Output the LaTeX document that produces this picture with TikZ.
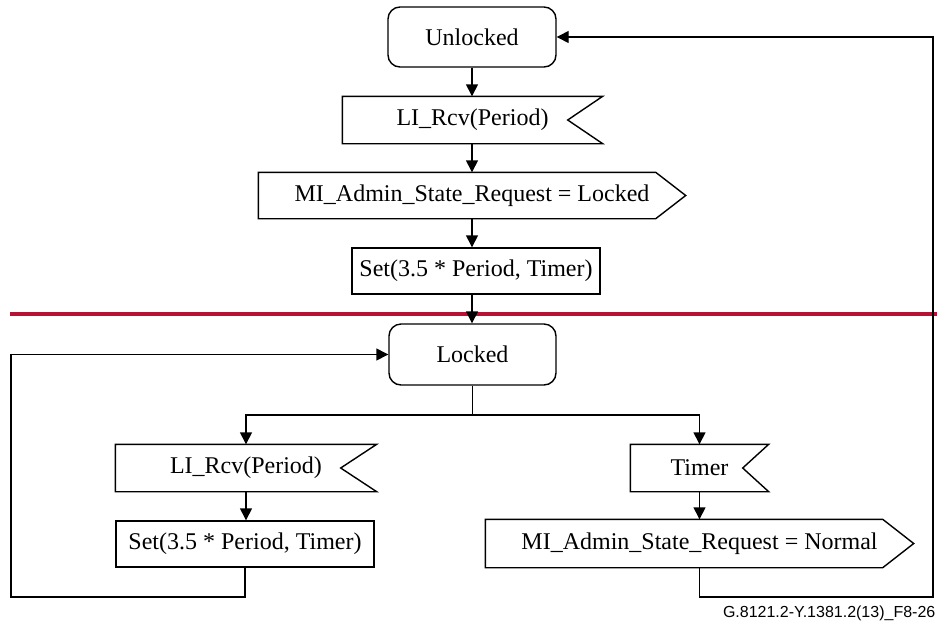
\documentclass[tikz,border=0pt]{standalone}
\usepackage{fontspec}
\setmainfont{Liberation Serif}
\newfontfamily\capfont{Liberation Sans}
\usetikzlibrary{arrows.meta,calc}
\definecolor{sepred}{RGB}{183,18,52}
\begin{document}
\begin{tikzpicture}[x=1pt,y=-1pt,line width=1.4pt,
  txt/.style={inner sep=0pt,anchor=center,font=\fontsize{24}{28}\selectfont},
  state/.style={txt,draw,rounded corners=12pt},
  act/.style={txt,draw},
  sig/.style={txt},
  arr/.style={-{Triangle[length=12pt,width=12pt]}},
  sepline/.style={draw=sepred,line width=3.5pt}]
\useasboundingbox (0,0) rectangle (937,625);
% separator line
\coordinate (redL) at (10,314);
\coordinate (redR) at (937,314);
\draw[sepline] (redL) -- (redR);
% nodes
\node[state,minimum width=168pt,minimum height=60pt] (unl) at (472,37) {Unlocked};
\node[sig,minimum width=259pt,minimum height=46pt] (li1) at (472.5,120) {LI\_Rcv(Period)};
\node[sig,minimum width=426pt,minimum height=45pt] (mi1) at (472,195.5) {MI\_Admin\_State\_Request = Locked};
\node[act,minimum width=248pt,minimum height=46pt] (set1) at (476,271) {Set(3.5 * Period, Timer)};
\node[state,minimum width=167pt,minimum height=61pt] (lck) at (472.5,354.5) {Locked};
\node[sig,minimum width=260pt,minimum height=46pt] (li2) at (246,468) {LI\_Rcv(Period)};
\node[act,minimum width=258pt,minimum height=46pt] (set2) at (245,544) {Set(3.5 * Period, Timer)};
\node[sig,minimum width=137pt,minimum height=46pt] (tim) at (699.5,468) {Timer};
\node[sig,minimum width=427pt,minimum height=47pt] (mi2) at (699.5,543.5) {MI\_Admin\_State\_Request = Normal};
% signal outlines
\draw (li1.north west) -- (li1.north east) -- ([xshift=-35pt]li1.east) -- (li1.south east) -- (li1.south west) -- cycle;
\draw (li2.north west) -- (li2.north east) -- ([xshift=-36pt]li2.east) -- (li2.south east) -- (li2.south west) -- cycle;
\draw (tim.north west) -- (tim.north east) -- ([xshift=-26pt]tim.east) -- (tim.south east) -- (tim.south west) -- cycle;
\draw (mi1.north west) -- ([xshift=-30pt]mi1.north east) -- (mi1.east) -- ([xshift=-30pt]mi1.south east) -- (mi1.south west) -- cycle;
\draw (mi2.north west) -- ([xshift=-31pt]mi2.north east) -- (mi2.east) -- ([xshift=-31pt]mi2.south east) -- (mi2.south west) -- cycle;
% connectors
\coordinate (br) at (472.5,415);
\coordinate (ll) at (11,597);
\coordinate (rl) at (933,597);
\draw[arr] (unl.south) -- (unl.south |- li1.north);
\draw[arr] (unl.south |- li1.south) -- (unl.south |- mi1.north);
\draw[arr] (unl.south |- mi1.south) -- (unl.south |- set1.north);
\draw[arr] (unl.south |- set1.south) -- (unl.south |- lck.north);
\draw (lck.south) -- (br);
\draw[arr] (br) -| (li2.north);
\draw[arr] (br) -| (tim.north);
\draw[arr] (li2.south) -- (li2.south |- set2.north);
\draw[arr] (tim.south) -- (tim.south |- mi2.north);
\draw[arr] (set2.south) |- (ll) |- (lck.west);
\draw[arr] (mi2.south) |- (rl) |- (unl.east);
% caption
\node[anchor=base east,inner sep=0pt,font=\capfont\fontsize{16}{19}\selectfont] (cap) at (936,617) {G.8121.2-Y.1381.2(13)\_F8-26};
\end{tikzpicture}
\end{document}
